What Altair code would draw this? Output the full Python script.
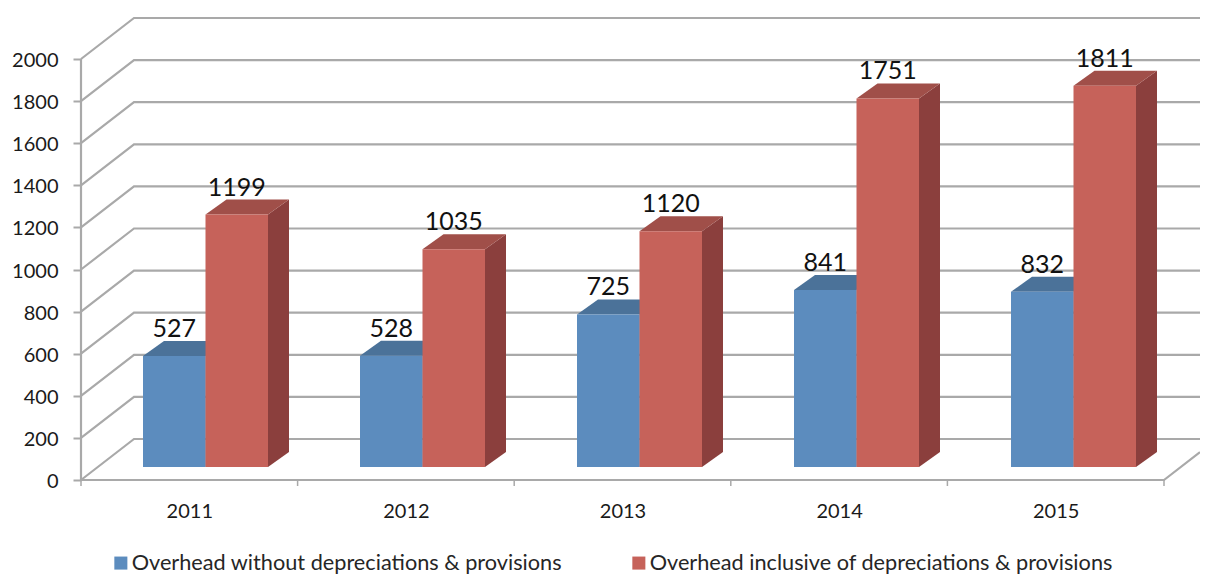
import altair as alt
import pandas as pd

years = ["2011", "2012", "2013", "2014", "2015"]
without = [527, 528, 725, 841, 832]
inclusive = [1199, 1035, 1120, 1751, 1811]
series_names = ["Overhead without depreciations & provisions",
                "Overhead inclusive of depreciations & provisions"]
y_ticks = list(range(0, 2001, 200))
x_ticks = [0, 1, 2, 3, 4, 5]

PX_X = 1083 / 5
PX_Y = 421 / 2000
W, H = 1119, 469
X_MAX = W / PX_X
Y_MAX = H / PX_Y
WALL_X, WALL_Y = 53 / PX_X, 41 / PX_Y      # depth of the back wall
BAR_X, BAR_Y = 21 / PX_X, 15 / PX_Y        # depth of a bar
BASE = 13 / PX_Y                           # lift of bars above front floor
LEFT = 62 / PX_X
BW = 62.5 / PX_X
STEP = 217 / PX_X
FONT = "Lato"
GRID = "#a9a9a9"

x_scale = alt.Scale(domain=[0, X_MAX], nice=False, zero=False)
y_scale = alt.Scale(domain=[0, Y_MAX], nice=False, zero=False)
x_axis = alt.Axis(values=[0.5, 1.5, 2.5, 3.5, 4.5], title=None, domain=False, ticks=False,
                  grid=False, labelExpr="2011 + floor(datum.value)", labelFont=FONT,
                  labelFontSize=20, labelColor="#1a1a1a", labelPadding=21, labelFlush=False)
y_axis = alt.Axis(values=y_ticks, title=None, domain=False, tickSize=8, tickColor=GRID, tickWidth=2,
                  grid=False, labelFont=FONT, labelFontSize=20, labelColor="#1a1a1a", labelPadding=15,
                  labelOffset=1.5, format="d")
fx = alt.X("x:Q", scale=x_scale, axis=x_axis)
fy = alt.Y("y:Q", scale=y_scale, axis=y_axis)

grid_rows = []
for v in y_ticks:
    grid_rows += [dict(k=v, o=0, x=0, y=v), dict(k=v, o=1, x=WALL_X, y=v + WALL_Y),
                  dict(k=v, o=2, x=X_MAX, y=v + WALL_Y)]
grid_rows += [dict(k="floor", o=0, x=0, y=0), dict(k="floor", o=1, x=5, y=0),
              dict(k="floor", o=2, x=X_MAX, y=(X_MAX - 5) * WALL_Y / WALL_X)]
grid_rows += [dict(k="axis", o=0, x=0, y=0), dict(k="axis", o=1, x=0, y=2000)]
grid = alt.Chart(pd.DataFrame(grid_rows)).mark_line(color=GRID, strokeWidth=2.2).encode(
    x=fx, y=fy, detail="k:N", order="o:Q")

ticks = alt.Chart(pd.DataFrame({"x": x_ticks})).mark_rule(color=GRID, strokeWidth=1.5).encode(
    x=fx, y=alt.value(H), y2=alt.value(H + 6))


def bar_layers(vals, shift, name, top_col, side_col):
    side, top, front, labels = [], [], [], []
    for i, v in enumerate(vals):
        l = i * STEP + LEFT + shift * BW
        r = l + BW
        side += [dict(b=i, x=r, y=BASE, y2=BASE + v), dict(b=i, x=r + BAR_X, y=BASE + BAR_Y, y2=BASE + BAR_Y + v)]
        top += [dict(b=i, y=BASE + v, x=l, x2=r), dict(b=i, y=BASE + v + BAR_Y, x=l + BAR_X, x2=r + BAR_X)]
        front.append(dict(x=l, x2=r, y=BASE, y2=BASE + v, s=name))
        labels.append(dict(x=(l + r) / 2, y=BASE + v + BAR_Y, t=str(v)))
    s = alt.Chart(pd.DataFrame(side)).mark_area(color=side_col, orient="vertical").encode(
        x=fx, y=alt.Y("y:Q", stack=None, scale=y_scale, axis=y_axis), y2="y2:Q", detail="b:N")
    t = alt.Chart(pd.DataFrame(top)).mark_area(color=top_col, orient="horizontal").encode(
        y=fy, x=alt.X("x:Q", stack=None, scale=x_scale, axis=x_axis), x2="x2:Q", detail="b:N")
    f = alt.Chart(pd.DataFrame(front)).mark_rect().encode(
        x=fx, x2="x2:Q", y=fy, y2="y2:Q",
        color=alt.Color("s:N", title=None,
                        scale=alt.Scale(domain=series_names, range=["#5c8cbe", "#c6625a"]),
                        legend=alt.Legend(orient="none", legendX=29, legendY=541, direction="horizontal",
                                          columns=2, symbolType="square", symbolSize=170, symbolStrokeWidth=0,
                                          symbolOpacity=1, labelFont=FONT, labelFontSize=21.7,
                                          labelColor="#262626", labelLimit=600, columnPadding=65,
                                          labelOffset=0)))
    txt = alt.Chart(pd.DataFrame(labels)).mark_text(font=FONT, fontSize=25, color="#111111", baseline="alphabetic",
                                                    align="center", dy=-4).encode(
        x=fx, y=fy, text="t:N")
    return [s, t, f], txt


blue, blue_txt = bar_layers(without, 0, series_names[0], "#4b7299", "#3f6085")
red, red_txt = bar_layers(inclusive, 1, series_names[1], "#a04f49", "#8b3f3d")

chart = alt.layer(grid, ticks, *blue, *red, blue_txt, red_txt).properties(
    width=W, height=H,
    autosize=alt.AutoSizeParams(type="none"),
    padding={"left": 73, "top": 3, "right": 0, "bottom": 94},
).configure_view(stroke=None)

chart.save("out.html", embed_options={"renderer": "svg", "actions": False})
